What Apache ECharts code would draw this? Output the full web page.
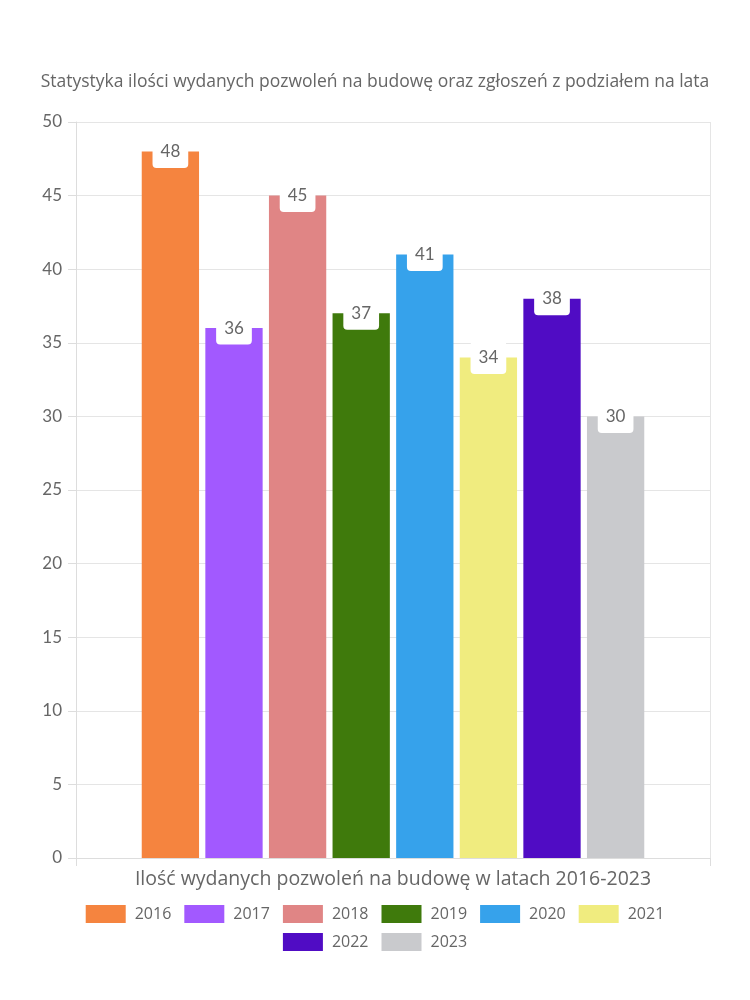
<!DOCTYPE html>
<html><head><meta charset="utf-8">
<script src="https://cdn.jsdelivr.net/npm/echarts@6/dist/echarts.min.js"></script>
<style>html,body{margin:0;padding:0;background:#fff}#c{width:750px;height:1000px}</style>
</head><body><div id="c"></div>
<script>
const categories = ['Ilość wydanych pozwoleń na budowę w latach 2016-2023'];
const years = ['2016','2017','2018','2019','2020','2021','2022','2023'];
const values = [48, 36, 45, 37, 41, 34, 38, 30];
const colors = ['#f5843f','#a259ff','#e08585','#3f7a0c','#36a2eb','#f0ec7f','#500cc4','#c9cacd'];
const yTicks = {min: 0, max: 50, interval: 5};
const FONT = '"Open Sans", Lato, sans-serif';
const LFONT = 'Lato, "Noto Sans", sans-serif';
const legendBase = {left: 'center', icon: 'rect', itemWidth: 40, itemHeight: 18, itemGap: 13,
  textStyle: {fontFamily: FONT, fontSize: 16, color: '#666', padding: [0, 0, 0, 4]}};
const chart = echarts.init(document.getElementById('c'));
chart.setOption({
  animation: false,
  textStyle: {fontFamily: FONT},
  title: {text: 'Statystyka ilości wydanych pozwoleń na budowę oraz zgłoszeń z podziałem na lata', left: 'center', top: 68,
    textStyle: {fontFamily: FONT, fontSize: 17.5, fontWeight: 'normal', color: '#666'}},
  legend: [
    Object.assign({}, legendBase, {top: 900, data: years.slice(0, 6)}),
    Object.assign({}, legendBase, {top: 928, data: years.slice(6)})
  ],
  grid: {left: 76, right: 40, top: 122, bottom: 142},
  xAxis: {type: 'category', data: categories,
    axisLine: {lineStyle: {color: '#ddd'}}, axisTick: {show: true, length: 8, lineStyle: {color: '#ddd'}},
    splitLine: {show: true, lineStyle: {color: '#e5e5e5'}},
    axisLabel: {fontFamily: FONT, fontSize: 19.5, color: '#666', margin: 11}},
  yAxis: {type: 'value', min: yTicks.min, max: yTicks.max, interval: yTicks.interval,
    axisLine: {show: true, lineStyle: {color: '#ddd'}}, axisTick: {show: true, length: 8, lineStyle: {color: '#ddd'}},
    splitLine: {lineStyle: {color: '#e5e5e5'}},
    axisLabel: {fontFamily: LFONT, fontSize: 17, color: '#666', margin: 14}},
  series: years.map((y, i) => ({
    name: y, type: 'bar', data: [values[i]], barWidth: 57.3, barGap: '11%',
    itemStyle: {color: colors[i]},
    label: {show: true, position: ['50%', 0], align: 'center', verticalAlign: 'middle',
      backgroundColor: '#fff', padding: [8, 8], borderRadius: 4,
      fontFamily: LFONT, fontSize: 17, color: '#666'}
  }))
});
</script></body></html>
